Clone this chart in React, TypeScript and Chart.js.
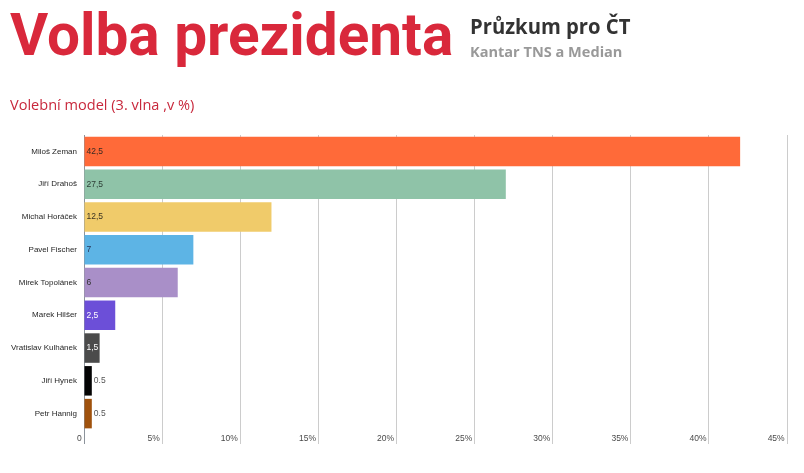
import React, { useEffect, useRef } from "react";
import { Chart, registerables } from "chart.js";

Chart.register(...registerables);

const candidates = [
  "Miloš Zeman",
  "Jiří Drahoš",
  "Michal Horáček",
  "Pavel Fischer",
  "Mirek Topolánek",
  "Marek Hilšer",
  "Vratislav Kulhánek",
  "Jiří Hynek",
  "Petr Hannig",
];
const barValues = [42, 27, 12, 7, 6, 2, 1, 0.5, 0.5];
const valueLabels = ["42,5", "27,5", "12,5", "7", "6", "2,5", "1,5", "0.5", "0.5"];
const barColors = [
  "#ff6a39",
  "#8fc3a8",
  "#f0cb6a",
  "#5db4e5",
  "#a98fc8",
  "#6c4fd8",
  "#4b4b4b",
  "#040404",
  "#a0520d",
];
const labelColors = ["#3a2a22", "#2e3e36", "#3a3322", "#26365a", "#333", "#fff", "#fff", "#555", "#555"];
const labelInside = [true, true, true, true, true, true, true, false, false];
const xTicks = [0, 5, 10, 15, 20, 25, 30, 35, 40, 45];

const valueLabelPlugin = {
  id: "valueLabels",
  afterDatasetsDraw(chart: any) {
    const ctx = chart.ctx;
    const meta = chart.getDatasetMeta(0);
    ctx.save();
    ctx.font = "8.5px Arial, 'Liberation Sans', sans-serif";
    ctx.textBaseline = "middle";
    ctx.textAlign = "left";
    meta.data.forEach((bar: any, i: number) => {
      const x = labelInside[i] ? bar.base + 2 : bar.x + 2;
      ctx.fillStyle = labelColors[i];
      ctx.fillText(valueLabels[i], x, bar.y);
    });
    ctx.restore();
  },
};

function BarChart() {
  const ref = useRef<HTMLCanvasElement>(null);
  useEffect(() => {
    if (!ref.current) return;
    const chart = new Chart(ref.current, {
      type: "bar",
      data: {
        labels: candidates,
        datasets: [
          {
            data: barValues,
            backgroundColor: barColors,
            borderWidth: 0,
            barPercentage: 0.9,
            categoryPercentage: 1,
          },
        ],
      },
      options: {
        indexAxis: "y",
        responsive: false,
        animation: false,
        layout: { padding: { top: 135, right: 17, left: 0, bottom: 0 } },
        plugins: { legend: { display: false }, tooltip: { enabled: false }, title: { display: false } },
        scales: {
          x: {
            type: "linear",
            min: 0,
            max: 45,
            afterBuildTicks: (scale: any) => {
              scale.ticks = xTicks.map((v) => ({ value: v }));
            },
            afterFit: (scale: any) => {
              scale.height = 43;
            },
            border: { display: false },
            grid: {
              color: (c: any) => (c.tick && c.tick.value === 0 ? "#8c939b" : "#cccccc"),
              lineWidth: 1,
              tickLength: 14,
              drawTicks: true,
            },
            ticks: {
              align: "end",
              padding: -10,
              maxRotation: 0,
              autoSkip: false,
              color: "#4a4a4a",
              font: { size: 8.5, family: "Arial, 'Liberation Sans', sans-serif" },
              callback: (v: any) => (Number(v) === 0 ? "0 " : v + "% "),
            },
          },
          y: {
            type: "category",
            afterFit: (scale: any) => {
              scale.width = 84;
            },
            border: { display: false },
            grid: { display: false, drawTicks: false },
            ticks: {
              padding: 7,
              color: "#262626",
              font: { size: 8, family: "Arial, 'Liberation Sans', sans-serif" },
            },
          },
        },
      },
      plugins: [valueLabelPlugin],
    });
    return () => chart.destroy();
  }, []);
  return (
    <canvas
      ref={ref}
      width={804}
      height={473}
      style={{ position: "absolute", left: 0, top: 0, width: 804, height: 473 }}
    />
  );
}

export default function App() {
  return (
    <div
      style={{
        position: "fixed",
        left: 0,
        top: 0,
        width: 804,
        height: 473,
        background: "#fff",
        overflow: "hidden",
      }}
    >
      <BarChart />
      <div
        style={{
          position: "absolute",
          left: 10,
          top: 0,
          fontFamily: "Roboto, sans-serif",
          fontWeight: 700,
          fontSize: 58.5,
          lineHeight: "70px",
          color: "#d9283b",
          whiteSpace: "nowrap",
        }}
      >
        Volba prezidenta
      </div>
      <div
        style={{
          position: "absolute",
          left: 470,
          top: 10,
          fontFamily: "'Open Sans', sans-serif",
          fontWeight: 700,
          fontSize: 22,
          lineHeight: "30px",
          color: "#333",
          whiteSpace: "nowrap",
          transform: "scaleX(0.92)",
          transformOrigin: "left top",
        }}
      >
        Průzkum pro ČT
      </div>
      <div
        style={{
          position: "absolute",
          left: 470,
          top: 40,
          fontFamily: "'Open Sans', sans-serif",
          fontWeight: 700,
          fontSize: 15,
          lineHeight: "22px",
          color: "#999",
          whiteSpace: "nowrap",
          transform: "scaleX(0.97)",
          transformOrigin: "left top",
        }}
      >
        Kantar TNS a Median
      </div>
      <div
        style={{
          position: "absolute",
          left: 10,
          top: 93,
          fontFamily: "'Open Sans', sans-serif",
          fontWeight: 400,
          fontSize: 15,
          lineHeight: "22px",
          color: "#c8283c",
          whiteSpace: "nowrap",
          transform: "scaleX(0.97)",
          transformOrigin: "left top",
        }}
      >
        Volební model (3. vlna ,v %)
      </div>
    </div>
  );
}
